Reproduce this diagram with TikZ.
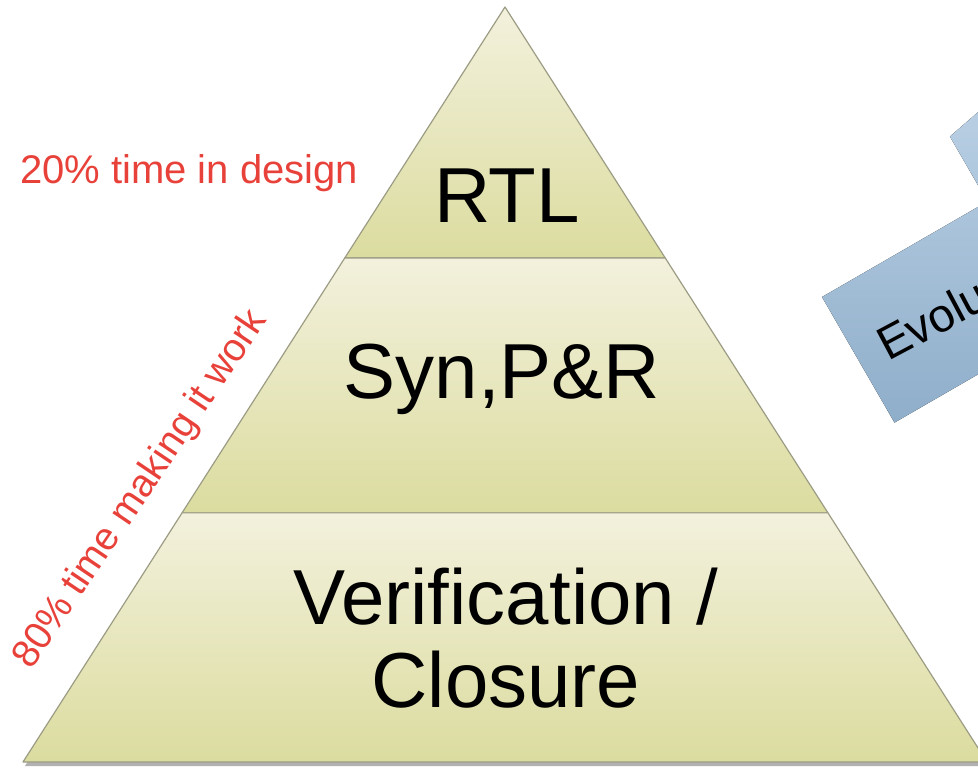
\documentclass[tikz,border=0pt]{standalone}
\usepackage{fontspec}
\setmainfont{Liberation Sans}
\usetikzlibrary{calc}
\definecolor{layertop}{HTML}{F3F1DD}
\definecolor{layerbot}{HTML}{DBDC9F}
\definecolor{edgegray}{HTML}{9C9C84}
\definecolor{notered}{HTML}{E8413A}
\definecolor{arrowtop}{HTML}{C0D5E8}
\definecolor{arrowbot}{HTML}{8FAECA}
\begin{document}
\begin{tikzpicture}[x=1pt, y=-1pt,
    layer/.style={draw=edgegray, line width=1.2pt, line join=round, top color=layertop, bottom color=layerbot},
    label/.style={font=\fontsize{78}{83}\selectfont, align=center, inner sep=0pt},
    note/.style={font=\fontsize{39}{44}\selectfont, text=notered, inner sep=0pt}]
    \useasboundingbox (0,0) rectangle (978,768);
    \clip (0,0) rectangle (978,768);

    % Vertici della piramide
    \coordinate (apex) at (505,7);
    \coordinate (baseL) at (23,762);
    \coordinate (baseR) at (987,762);
    \coordinate (cutL1) at ($(apex)!0.3325!(baseL)$);
    \coordinate (cutR1) at ($(apex)!0.3325!(baseR)$);
    \coordinate (cutL2) at ($(apex)!0.670!(baseL)$);
    \coordinate (cutR2) at ($(apex)!0.670!(baseR)$);

    % Ombra
    \fill[black!30] ($(baseL)+(2,4)$) -- ($(baseR)+(-2,4)$) -- ($(cutR2)+(0,4)$) -- ($(cutL2)+(0,4)$) -- cycle;

    % Livelli
    \path[layer] (apex) -- (cutR1) -- (cutL1) -- cycle;
    \path[layer] (cutL1) -- (cutR1) -- (cutR2) -- (cutL2) -- cycle;
    \path[layer] (cutL2) -- (cutR2) -- (baseR) -- (baseL) -- cycle;

    \node[label, anchor=base] (rtl) at (507,222) {RTL};
    \node[label, anchor=base] (synpr) at (502,398) {Syn,P\&R};
    \node[label] (verif) at (506,638) {Verification /\\Closure};

    % Note
    \node[note, font=\fontsize{40}{44}\selectfont, anchor=base west] (design) at (20,183) {20\% time in design};
    \node[note, anchor=base west, rotate=56] (work) at (31,671) {80\% time making it work};

    % Freccia
    \begin{scope}[shift={(822,297)}, rotate=30]
        \fill[top color=arrowtop, bottom color=arrowbot]
            (0,0) -- (191,0) -- (191,-75) -- (320,-100) -- (400,100) -- (191,220) -- (191,145) -- (0,145) -- cycle;
    \end{scope}
    \node[font=\fontsize{47}{50}\selectfont, anchor=base west, rotate=28, inner sep=0pt] (evol) at (888,362) {Evolution};
\end{tikzpicture}
\end{document}
